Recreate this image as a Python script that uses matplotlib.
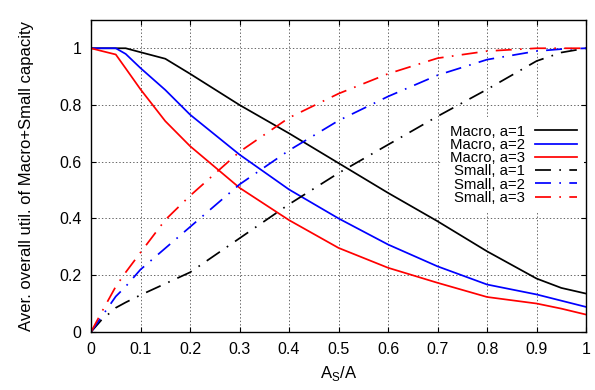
import matplotlib
matplotlib.use("Agg")
import matplotlib.pyplot as plt

plt.rcParams['font.family'] = ['Liberation Sans', 'DejaVu Sans']
plt.rcParams['mathtext.fontset'] = 'custom'
plt.rcParams['mathtext.rm'] = 'Liberation Sans'
plt.rcParams['lines.scale_dashes'] = False

# fraction of small-cell area
x = [0, 0.02, 0.05, 0.07, 0.1, 0.15, 0.2, 0.3, 0.4, 0.5, 0.6, 0.7, 0.8, 0.9, 0.95, 1.0]

macro_a1 = [1, 1, 1, 1, 0.986, 0.963, 0.91, 0.80, 0.70, 0.595, 0.49, 0.39, 0.284, 0.188, 0.155, 0.135]
macro_a2 = [1, 1, 1, 0.98, 0.93, 0.853, 0.766, 0.625, 0.502, 0.40, 0.308, 0.231, 0.167, 0.132, 0.11, 0.088]
macro_a3 = [1, 0.991, 0.978, 0.929, 0.855, 0.743, 0.655, 0.508, 0.394, 0.296, 0.226, 0.173, 0.123, 0.10, 0.082, 0.061]

small_a1 = [0, 0.04, 0.085, 0.104, 0.13, 0.17, 0.21, 0.33, 0.45, 0.56, 0.66, 0.76, 0.855, 0.955, 0.985, 1]
small_a2 = [0, 0.05, 0.125, 0.16, 0.22, 0.295, 0.37, 0.52, 0.64, 0.745, 0.83, 0.905, 0.96, 0.99, 0.997, 1]
small_a3 = [0, 0.065, 0.16, 0.21, 0.28, 0.395, 0.48, 0.635, 0.755, 0.84, 0.91, 0.965, 0.99, 1, 1, 1]

fig = plt.figure(figsize=(5.95, 3.9), dpi=100)
ax = fig.add_axes([0.153, 0.149, 0.832, 0.8])

lw = 1.25
dashdot = (0, (11.5, 6, 1.2, 6))
ax.plot(x, macro_a1, color='black', lw=lw, label='Macro, a=1')
ax.plot(x, macro_a2, color='#0000ff', lw=lw, label='Macro, a=2')
ax.plot(x, macro_a3, color='#ff0000', lw=lw, label='Macro, a=3')
ax.plot(x, small_a1, color='black', lw=lw, ls=dashdot, label='Small, a=1')
ax.plot(x, small_a2, color='#0000ff', lw=lw, ls=dashdot, label='Small, a=2')
ax.plot(x, small_a3, color='#ff0000', lw=lw, ls=dashdot, label='Small, a=3')

ax.set_xlim(0, 1)
ax.set_ylim(0, 1.1)
ax.set_xticks([0, 0.1, 0.2, 0.3, 0.4, 0.5, 0.6, 0.7, 0.8, 0.9, 1])
ax.set_xticklabels(['0', '0.1', '0.2', '0.3', '0.4', '0.5', '0.6', '0.7', '0.8', '0.9', '1'])
ax.set_yticks([0, 0.2, 0.4, 0.6, 0.8, 1])
ax.set_yticklabels(['0', '0.2', '0.4', '0.6', '0.8', '1'])
ax.tick_params(direction='in', top=True, right=True, length=3.6, width=0.8,
               labelsize=11.5, pad=7)
ax.grid(True, color='#666666', lw=0.7, ls=(0, (1, 1.5)))
for s in ax.spines.values():
    s.set_linewidth(1.0)

ax.set_xlabel(r'A$_\mathregular{S}$/A', fontsize=12, labelpad=5)
ax.set_ylabel('Aver. overall util. of Macro+Small capacity', fontsize=12, labelpad=18)

# key: labels on the left, samples on the right (rows right-aligned)
leg = ax.legend(loc='upper right', bbox_to_anchor=(0.996, 0.688), markerfirst=False,
                fontsize=10.7, handlelength=2.8, handletextpad=0.7, labelspacing=-0.05,
                borderpad=0.5, borderaxespad=0.0, frameon=True, fancybox=False)
leg.get_frame().set_facecolor('white')
leg.get_frame().set_edgecolor('none')
leg.get_frame().set_alpha(1.0)

plt.savefig('out.png', dpi=100)
